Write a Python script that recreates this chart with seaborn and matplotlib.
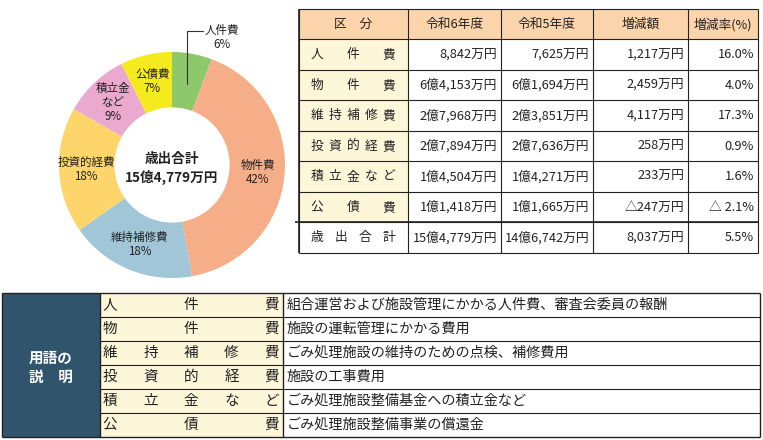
import matplotlib
matplotlib.use("Agg")
import matplotlib.pyplot as plt
from matplotlib.patches import Rectangle
import numpy as np
import seaborn as sns

# --- data ---------------------------------------------------------------
categories = ["人件費", "物件費", "維持補修費", "投資的経費", "積立金など", "公債費"]
r6_values = [8842, 64153, 27968, 27894, 14504, 11418]  # 万円 (令和6年度)
r5_values = [7625, 61694, 23851, 27636, 14271, 11665]  # 万円 (令和5年度)
pie_names = ["人件費", "物件費", "維持補修費", "投資的経費", "積立金\nなど", "公債費"]
pie_pcts = ["6%", "42%", "18%", "18%", "9%", "7%"]
colors = ["#8dc96b", "#f5ae87", "#a0c6d8", "#fdd56a", "#eba9cf", "#f5ea1d"]

header = ["区　分", "令和6年度", "令和5年度", "増減額", "増減率(%)"]
total_label = "歳出合計"
center_title = "歳出合計"

glossary_terms = ["人件費", "物件費", "維持補修費", "投資的経費", "積立金など", "公債費"]
glossary_texts = [
    "組合運営および施設管理にかかる人件費、審査会委員の報酬",
    "施設の運転管理にかかる費用",
    "ごみ処理施設の維持のための点検、補修費用",
    "施設の工事費用",
    "ごみ処理施設整備基金への積立金など",
    "ごみ処理施設整備事業の償還金",
]
glossary_head = "用語の\n説　明"

HEAD_BG = "#fcd4ab"
CREAM = "#fef6d9"
DARK = "#31546d"
LINE = "#222222"


def man_yen(v):
    oku, man = divmod(abs(v), 10000)
    s = f"{oku}億{man:,}万円" if oku else f"{man:,}万円"
    return "△" + s if v < 0 else s


def rate(new, old):
    r = (new - old) / old * 100
    return f"△ {abs(r):.1f}%" if r < 0 else f"{r:.1f}%"


sns.set_theme(style="white")
plt.rcParams["font.family"] = ["Noto Sans CJK JP", "DejaVu Sans"]

W, H = 763, 440
fig = plt.figure(figsize=(W / 100, H / 100), dpi=100)
fig.patch.set_facecolor("white")

# overlay axes in pixel coordinates for the tables
ax = fig.add_axes([0, 0, 1, 1])
ax.set_xlim(0, W)
ax.set_ylim(H, 0)
ax.axis("off")


def hline(y, x0, x1, lw=0.8):
    ax.plot([x0, x1], [y, y], color=LINE, lw=lw, solid_capstyle="butt")


def vline(x, y0, y1, lw=0.8):
    ax.plot([x, x], [y0, y1], color=LINE, lw=lw, solid_capstyle="butt")


def spread(text, x0, x1, y, size):
    chars = [c for c in text if c.strip()]
    for c, x in zip(chars, np.linspace(x0, x1, len(chars))):
        ax.text(x, y, c, ha="center", va="center", fontsize=size, color="#222222")


# --- summary table -----------------------------------------------------
col_x = [299, 408, 501, 593, 688, 758]
row_y = np.linspace(9, 253, 9)

ax.add_patch(Rectangle((col_x[0], row_y[0]), col_x[-1] - col_x[0], row_y[1] - row_y[0],
                       facecolor=HEAD_BG, edgecolor="none"))
ax.add_patch(Rectangle((col_x[0], row_y[1]), col_x[1] - col_x[0], row_y[7] - row_y[1],
                       facecolor=CREAM, edgecolor="none"))
for y in row_y:
    hline(y, col_x[0], col_x[-1])
hline(row_y[7], col_x[0] - 4, col_x[-1], lw=1.2)
for x in col_x:
    vline(x, row_y[0], row_y[-1])
vline(col_x[0], row_y[0], row_y[-1], lw=1.2)

for j, h in enumerate(header):
    ax.text((col_x[j] + col_x[j + 1]) / 2, (row_y[0] + row_y[1]) / 2, h,
            ha="center", va="center", fontsize=9.2, color="#222222")

rows = list(zip(categories, r6_values, r5_values))
rows.append((total_label, sum(r6_values), sum(r5_values)))
for i, (name, new, old) in enumerate(rows):
    yc = (row_y[i + 1] + row_y[i + 2]) / 2
    spread(name, 317, 389, yc, 9.2)
    vals = [man_yen(new), man_yen(old), man_yen(new - old), rate(new, old)]
    for j, v in enumerate(vals):
        ax.text(col_x[j + 2] - 4, yc, v, ha="right", va="center", fontsize=9.2, color="#222222")

# --- glossary table ----------------------------------------------------
gx = [2, 100, 283, 760]
gy = np.linspace(293, 437, 7)
ax.add_patch(Rectangle((gx[0], gy[0]), gx[1] - gx[0], gy[-1] - gy[0], facecolor=DARK, edgecolor="none"))
ax.add_patch(Rectangle((gx[1], gy[0]), gx[2] - gx[1], gy[-1] - gy[0], facecolor=CREAM, edgecolor="none"))
for y in gy[1:-1]:
    hline(y, gx[1], gx[-1])
hline(gy[0], gx[0], gx[-1], lw=1.0)
hline(gy[-1], gx[0], gx[-1], lw=1.0)
for x in gx:
    vline(x, gy[0], gy[-1], lw=1.0)
ax.text((gx[0] + gx[1]) / 2, 367, glossary_head, ha="center", va="center", fontsize=10.5,
        fontweight="bold", color="white", linespacing=1.25)
for i, (term, desc) in enumerate(zip(glossary_terms, glossary_texts)):
    yc = (gy[i] + gy[i + 1]) / 2
    spread(term, 110, 272, yc, 10.5)
    ax.text(287, yc, desc, ha="left", va="center", fontsize=10.2, color="#222222")

# --- donut chart -------------------------------------------------------
cx, cy, R = 172, 165, 113
ax_pie = fig.add_axes([(cx - R) / W, 1 - (cy + R) / H, 2 * R / W, 2 * R / H])
wedges, _ = ax_pie.pie(r6_values, colors=colors, startangle=90, counterclock=False, radius=1,
                       wedgeprops=dict(width=0.49, linewidth=0))
ax_pie.set_xlim(-1, 1)
ax_pie.set_ylim(-1, 1)
ax_pie.axis("off")

for i, w in enumerate(wedges):
    theta = np.deg2rad((w.theta1 + w.theta2) / 2)
    if i == 0:
        x0, y0 = 0.73 * np.cos(theta), 0.73 * np.sin(theta)
        ax_pie.plot([x0, x0, 0.274], [y0, 1.186, 1.186], color="#333333", lw=0.8, clip_on=False)
        ax_pie.text(0.44, 1.13, f"{pie_names[i]}\n{pie_pcts[i]}", ha="center", va="center",
                    fontsize=8.3, color="#222222", linespacing=1.1, clip_on=False)
        continue
    ax_pie.text(0.76 * np.cos(theta), 0.76 * np.sin(theta), f"{pie_names[i]}\n{pie_pcts[i]}",
                ha="center", va="center", fontsize=8.3, color="#222222", linespacing=1.1)

ax_pie.text(0, 0.05, center_title, ha="center", va="center", fontsize=9.8, fontweight="bold", color="#222222")
ax_pie.text(0, -0.11, man_yen(sum(r6_values)), ha="center", va="center", fontsize=9.8,
            fontweight="bold", color="#222222")

fig.savefig("out.png", dpi=100, facecolor="white")
